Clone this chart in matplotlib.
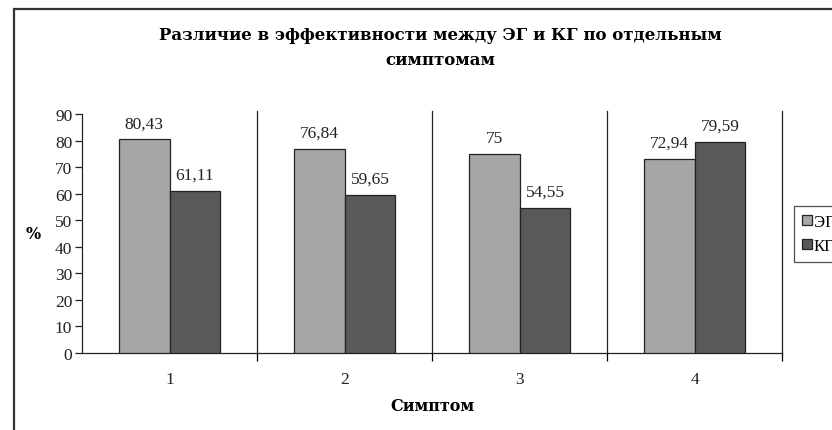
import numpy as np
import matplotlib.pyplot as plt
from matplotlib.patches import Rectangle

plt.rcParams['font.family'] = ['Liberation Serif', 'DejaVu Serif']

# данные
categories = ['1', '2', '3', '4']
eg = [80.43, 76.84, 75, 72.94]
kg = [61.11, 59.65, 54.55, 79.59]
eg_labels = ['80,43', '76,84', '75', '72,94']
kg_labels = ['61,11', '59,65', '54,55', '79,59']

fig = plt.figure(figsize=(8.32, 4.31), dpi=100)
ax = fig.add_axes([0.0986, 0.1787, 0.8414, 0.5543])

# рамка вокруг всей диаграммы (обрезана справа и снизу)
fig.patches.append(Rectangle((14/832, -0.2), 1.2, 1.2 - 10/431,
                             transform=fig.transFigure, fill=False,
                             edgecolor='#333333', lw=1.6, zorder=0))

x = np.arange(len(categories))
w = 0.29
b1 = ax.bar(x - w/2, eg, w, color='#a6a6a6', edgecolor='#222222', lw=0.9, label='ЭГ', zorder=3)
b2 = ax.bar(x + w/2, kg, w, color='#595959', edgecolor='#222222', lw=0.9, label='КГ', zorder=3)

fs = 12.5
for rect, t in zip(b1, eg_labels):
    ax.annotate(t, (rect.get_x() + rect.get_width()/2, rect.get_height()),
                xytext=(0, 6), textcoords='offset points', ha='center', va='bottom', fontsize=fs, color='#222222')
for rect, t in zip(b2, kg_labels):
    ax.annotate(t, (rect.get_x() + rect.get_width()/2, rect.get_height()),
                xytext=(0, 6), textcoords='offset points', ha='center', va='bottom', fontsize=fs, color='#222222')

ax.set_xlim(-0.5, len(categories) - 0.5)
ax.set_ylim(0, 90)
ax.set_yticks(np.arange(0, 91, 10))
ax.tick_params(axis='y', labelsize=fs, length=5, width=0.9, direction='out', pad=2, colors='#222222')

# подписи категорий по центру, засечки на границах
ax.set_xticks(x)
ax.set_xticklabels(categories, fontsize=fs)
ax.tick_params(axis='x', length=0, pad=13, colors='#222222')
ax.set_xticks(np.arange(0.5, len(categories), 1), minor=True)
ax.tick_params(axis='x', which='minor', length=6, width=0.9, direction='out')

for xb in np.arange(0.5, len(categories), 1):
    ax.plot([xb, xb], [0, 91], color='#222222', lw=0.9, zorder=1, clip_on=False)

for s in ['top', 'right']:
    ax.spines[s].set_visible(False)
for s in ['left', 'bottom']:
    ax.spines[s].set_color('#222222')
    ax.spines[s].set_linewidth(0.9)

ax.set_xlabel('Симптом', fontsize=11.5, fontweight='bold', labelpad=7, family='DejaVu Serif')
ax.set_ylabel('%', fontsize=11.5, fontweight='bold', rotation=0, labelpad=16, va='center',
              family='DejaVu Serif')

fig.text(0.529, 0.918, 'Различие в эффективности между ЭГ и КГ по отдельным',
         ha='center', va='center', fontsize=12, fontweight='bold', family='DejaVu Serif')
fig.text(0.529, 0.860, 'симптомам', ha='center', va='center', fontsize=12, fontweight='bold',
         family='DejaVu Serif')

leg = fig.legend(loc='upper left', bbox_to_anchor=(794/832, 1 - 207/431), fontsize=12,
                 frameon=True, fancybox=False, edgecolor='#222222', handlelength=0.55,
                 handleheight=0.55, handletextpad=0.15, borderpad=0.5, labelspacing=0.45,
                 borderaxespad=0)
leg.get_frame().set_linewidth(0.9)

fig.savefig('out.png', dpi=100)
